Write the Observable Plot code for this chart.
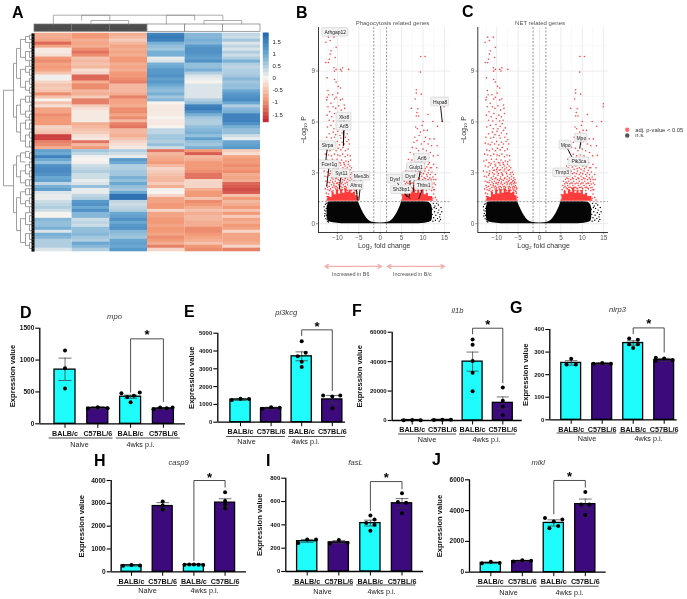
<!DOCTYPE html>
<html><head><meta charset="utf-8">
<script src="https://cdn.jsdelivr.net/npm/d3@7"></script>
<script src="https://cdn.jsdelivr.net/npm/@observablehq/plot@0.6"></script>
<style>
html,body{margin:0;padding:0;background:#fff}
#fig{position:relative;width:687px;height:599px;overflow:hidden;font-family:"Liberation Sans",Arial,sans-serif;background:#fff;filter:blur(.3px)}
#fig>svg{position:absolute;overflow:visible}
.letter{position:absolute;font-weight:700;font-size:16px;line-height:16px;color:#000}
</style></head><body><div id="fig"></div>
<script>
// ---------- heatmap values, one list per sample column (row by row, top to bottom)
const heatA=[-0.7,-0.7,-0.8,-1.3,-0.8,-0.1,-0.1,-0.2,-0.9,-1.0,-0.8,-0.9,-0.8,-0.5,0.05,0.05,-0.3,-0.5,-0.4,-0.5,-1.0,-0.5,0.0,-0.5,-0.2,-0.8,-0.8,-1.0,-0.9,-0.9,-0.9,-0.3,-0.4,-0.5,-1.6,-1.6,-1.1,-1.0,-0.7,1.1,1.0,1.5,1.0,0.7,1.3,1.4,1.4,1.3,1.0,1.1,0.4,0.9,1.1,0.2,0.1,0.1,0.3,0.4,0.5,0.3,0.0,0.0,0.8,0.7,0.7,0.9,0.2,0.9,0.8,0.5,0.5,0.5,0.2];
const heatB=[-0.9,-0.9,-0.7,-0.8,-0.7,-1.0,-1.2,-1.0,-0.5,-0.6,-0.5,-0.6,-0.2,-0.3,-1.3,-1.3,-0.7,-1.0,-1.0,-0.6,-0.7,-0.4,-1.1,-1.1,-0.4,-0.2,-0.1,-0.1,-0.1,-0.1,-0.7,-0.6,-0.5,-0.4,-0.2,-0.1,-1.2,-0.6,-0.9,0.6,0.4,0.05,0.0,0.05,0.3,0.4,0.5,0.3,0.3,0.1,0.2,0.7,0.1,0.1,0.4,0.5,1.2,1.3,1.0,1.3,0.8,0.8,0.3,0.4,0.3,0.7,0.7,0.8,0.6,0.5,1.0,0.8,0.5];
const heatC=[-0.7,-0.6,-0.4,-0.6,-0.8,-0.7,-0.8,-0.7,-0.9,-0.9,-0.7,-0.8,-0.7,-0.9,-0.9,-1.0,-1.1,-0.6,-0.6,-0.6,-0.7,-1.1,-0.8,-0.8,-0.7,-1.0,-1.0,-0.8,-1.0,-0.6,-1.1,-1.2,-0.6,-0.6,-0.7,-0.5,-0.3,-0.2,-0.1,0.5,0.3,0.1,1.2,1.0,0.5,0.5,0.6,0.6,0.9,0.7,1.0,0.7,0.6,1.0,1.7,1.7,0.4,0.3,0.4,0.5,1.0,1.1,1.3,1.0,1.2,1.3,0.8,0.7,0.6,1.0,1.1,1.0,1.2];
const heatD=[1.5,1.6,1.5,0.9,0.7,0.6,0.9,0.9,0.1,0.2,0.9,1.0,1.2,1.2,1.3,1.1,1.2,1.0,0.8,0.7,0.9,0.6,0.8,0.0,-0.1,-0.1,-0.1,-0.1,0.0,-0.1,-0.1,0.0,0.4,0.4,0.6,0.6,0.5,0.7,0.3,-1.2,-0.6,-0.7,-0.8,-0.9,-0.6,-0.3,-0.4,-0.5,-0.6,-0.6,-0.4,-0.7,0.05,0.0,-0.3,-0.8,-0.8,-0.9,-0.9,-0.3,-0.8,-0.8,-0.9,-0.9,-0.8,-0.9,-0.9,-0.8,-1.0,-0.9,-0.7,-1.1,-0.3];
const heatE=[0.8,0.8,0.9,0.8,1.2,1.3,1.3,1.2,1.1,1.3,0.7,0.7,0.9,0.5,0.2,0.1,0.0,0.2,0.2,0.2,0.2,0.2,0.5,0.7,1.5,1.6,1.3,0.9,0.6,0.5,0.5,0.7,0.8,0.9,0.7,1.1,0.7,0.6,0.9,-0.9,-1.4,-0.6,-0.7,-0.9,-0.9,-0.9,-1.0,-1.2,-1.2,-0.3,-0.3,-0.3,-0.7,-0.9,-0.9,-0.5,-1.0,-0.9,-0.7,-0.5,-0.7,-0.6,-0.6,-0.7,-0.7,-1.0,-1.0,-0.9,-0.8,-0.7,-0.5,-0.9,-1.0];
const heatF=[0.4,0.3,0.6,0.2,0.4,0.2,0.5,0.3,0.5,0.9,0.5,0.4,0.5,0.5,0.6,0.8,0.6,0.7,0.7,1.0,1.2,1.3,1.4,1.0,0.5,0.8,0.9,1.5,1.5,1.5,1.3,0.9,0.7,0.7,0.3,0.1,1.0,1.1,1.2,-0.4,-0.2,-0.8,-0.9,-0.9,-1.0,-0.9,-1.0,-0.7,-0.8,-0.7,-1.3,-1.4,-1.5,-1.4,-0.5,-0.9,-0.6,-0.7,-0.9,-0.5,-0.9,-0.4,-0.8,-0.7,-0.9,-0.8,-0.3,-0.8,-0.8,-0.8,-0.7,-0.3,-1.1];
const heatColumns=[heatA,heatB,heatC,heatD,heatE,heatF];
const sampleGroups=["BALB/c","BALB/c","BALB/c","C57BL/6","C57BL/6","C57BL/6"];
const colorbarStops=[-1.83,-1.7,-1.55,-1.4,-1.25,-1.1,-0.95,-0.8,-0.65,-0.5,-0.35,-0.2,-0.05,0.1,0.25,0.4,0.55,0.7,0.85,1.0,1.15,1.3,1.45,1.6,1.75,1.89];
const colorbarTicks=[-1.5,-1,-0.5,0,0.5,1,1.5];
// dendrogram brackets: [height, pos1, childHeight1, pos2, childHeight2]
const rowTree=[[31,19,21,51,21],[21,10,18,28,18],[18,5,14,15,14],[18,24,14,33,14],[14,2,9,8,9],[14,12,9,18,9],[14,22,9,27,9],[14,30,9,36,9],[9,1,5,3,5],[9,6,5,9,5],[9,11,5,13,5],[9,16,5,19,5],[9,21,5,23,5],[9,26,5,28,5],[9,29,5,32,5],[9,34,5,38,5],[21,44,18,60,18],[18,41,14,48,14],[18,55,14,66,14],[14,40,9,43,9],[14,46,9,50,9],[14,53,9,57,9],[14,62,9,70,9],[9,39.5,5,41.5,5],[9,44,5,47,5],[9,49,5,51,5],[9,52,5,54,5],[9,56,5,58,5],[9,60,5,64,5],[9,67,5,71,5],[5,0.5,2,2,2],[5,3,2,5,2],[5,6,2,8,2],[5,9,2,11,2],[5,12,2,14,2],[5,15,2,17,2],[5,18,2,20,2],[5,21,2,23,2],[5,24,2,26,2],[5,27,2,29,2],[5,30,2,32,2],[5,33,2,35,2],[5,36,2,38,2],[5,40,2,42,2],[5,43,2,45,2],[5,46,2,48,2],[5,49,2,51,2],[5,52,2,54,2],[5,55,2,57,2],[5,58,2,60,2],[5,61,2,63,2],[5,64,2,66,2],[5,67,2,69,2],[5,70,2,72,2]];
const colTree=[[18.3,0.5,9,2.0,13],[13,1.5,9,2.5,9],[18.3,3.5,9,5.0,13],[13,4.5,9,5.5,9]];

// ---------- volcano values (shared genes in both volcano panels)
const redLeft=[[-12.7,10.7],[-12.1,11],[-11.7,10.8],[-10.8,11],[-10.3,10.4],[-11.5,10.2],[-11.7,10],[-12.7,9.5],[-12.1,9.5],[-11.9,9.7],[-10.5,9.8],[-10.8,9.2],[-10.7,9],[-10.3,9.1],[-8.8,9.2],[-9.3,9.1],[-7.4,9.1],[-9,9],[-12.4,8.6],[-10.7,8.5],[-10.3,8.35],[-9.8,8.1],[-9.3,8],[-12.2,7.85],[-12,7.6],[-12.4,7.45],[-10.3,7.45],[-10.7,7.35],[-8.8,7.35],[-9.3,7.3],[-11.5,7.1],[-8.4,7],[-12.5,7.3],[-11.1,7.6],[-9.9,7.7],
[-12.2,6.9],[-11.8,6.6],[-11,6.9],[-10.4,6.8],[-9.7,6.95],[-9.1,6.7],[-8.3,6.8],[-12.4,6.4],[-11.3,6.3],[-10.7,6.5],[-10.1,6.2],[-9.5,6.4],[-8.9,6.3],[-8.2,6.5],[-11.9,6.1],[-10.9,6.05],[-9.3,6.05],[-8.5,6.1],
[-12.3,5.7],[-11.5,5.8],[-10.8,5.6],[-10.2,5.85],[-9.7,5.6],[-9.2,5.75],[-8.7,5.9],[-8,5.65],[-11.9,5.3],[-11,5.4],[-10.4,5.25],[-9.9,5.45],[-9.4,5.2],[-8.9,5.35],[-8.4,5.5],[-7.7,5.3],[-12.5,5.1],[-11.4,5.05],[-10.7,5.1],[-9.2,5.05],[-8.1,5.1],[-7.4,4.95],
[-12.7,4.75],[-12,4.7],[-11.5,4.65],[-11.1,4.8],[-10.5,4.7],[-10,4.85],[-9.5,4.65],[-8.9,4.8],[-8.4,4.7],[-7.8,4.85],[-7.2,4.7],[-12.3,4.35],[-11.7,4.3],[-11,4.4],[-10.3,4.3],[-9.8,4.45],[-9.2,4.35],[-8.7,4.5],[-8.1,4.3],[-7.5,4.4],[-12.8,4.1],[-12.1,4.05],[-11.4,4],[-10.7,4.1],[-9.9,4.05],[-9.4,4],[-8.8,4.1],[-8.2,3.95],[-7.6,4.05],[-7,4],
[-13,3.7],[-12.4,3.75],[-11.8,3.6],[-11.2,3.8],[-10.6,3.65],[-10.1,3.8],[-9.6,3.6],[-9,3.75],[-8.5,3.6],[-8,3.7],[-7.4,3.65],[-6.9,3.75],[-12.7,3.4],[-12,3.35],[-11.5,3.45],[-10.9,3.3],[-10.3,3.4],[-9.8,3.3],[-9.2,3.45],[-8.7,3.3],[-8.2,3.4],[-7.7,3.3],[-7.1,3.4],[-6.7,3.3],[-13.1,3.1],[-12.3,3.05],[-11.6,3.1],[-11,3],[-10.5,3.15],[-9.9,3.05],[-9.4,3.15],[-8.9,3],[-8.3,3.1],[-7.8,3.05],[-7.3,3.15],[-6.7,3],[-6.3,3.05],
[-12.9,2.8],[-12.4,2.75],[-11.9,2.85],[-11.3,2.7],[-10.8,2.8],[-10.2,2.7],[-9.7,2.85],[-9.1,2.75],[-8.6,2.85],[-8.1,2.7],[-7.5,2.8],[-7,2.7],[-6.5,2.8],[-6,2.7],[-12.7,2.5],[-12.2,2.45],[-11.6,2.55],[-11.1,2.45],[-10.5,2.5],[-10,2.4],[-9.4,2.55],[-8.9,2.45],[-8.4,2.55],[-7.8,2.45],[-7.3,2.5],[-6.8,2.4],[-6.3,2.5],[-5.8,2.45],[-12.5,2.25],[-11.9,2.2],[-11.4,2.3],[-10.8,2.25],[-10.3,2.2],[-9.7,2.3],[-9.2,2.2],[-8.6,2.3],[-8.1,2.2],[-7.6,2.3],[-7,2.2],[-6.5,2.3],[-6,2.2],[-5.6,2.25],[-5.3,2.05],
[-12.8,2.05],[-12.2,2],[-11.6,2.05],[-11,1.95],[-10.4,2.05],[-9.9,1.95],[-9.4,2.05],[-8.8,2],[-8.3,2.05],[-7.7,1.95],[-7.2,2.05],[-6.7,1.95],[-6.2,2.05],[-5.7,1.95],[-12.6,1.8],[-12.1,1.75],[-6.1,1.85],[-5.4,1.8],[-12.4,1.6],[-12.2,1.45],[-5.2,1.55]];
const redRight=[[9.45,9.86],[10.5,9.86],[9.4,8.94],[8.44,7.9],[8.44,7.7],[9.6,7.64],[8.2,7.35],[7.27,6.8],[8.8,6.78],[8.6,6.56],[9,6.35],[8.44,6.35],[14.9,7.07],[14.9,6.9],[14.5,6.03],[12.3,6.03],[10,6.03],[11.2,6.44],[13.4,5.74],[13.5,4.03],
[9.8,5.8],[8.3,5.7],[8.7,5.6],[9.4,5.4],[10.2,5.5],[11,5.5],[8.1,5.1],[9.1,5.2],[10.6,5.1],[11.6,5],[12.6,5],[7.9,4.8],[8.6,4.9],[9.6,4.7],[10.3,4.85],[11.2,4.7],[12,4.6],[13.3,4.6],[7.5,4.5],[8.4,4.45],[9,4.3],[10,4.4],[10.8,4.3],[11.7,4.2],[7,4.2],[7.9,4.1],[8.7,4],[9.5,4.05],[10.4,4],[11.3,3.9],[12.4,4],
[6.6,3.8],[7.4,3.75],[8.1,3.7],[9,3.65],[9.9,3.75],[10.7,3.7],[11.5,3.6],[12.5,3.5],[6.3,3.4],[7,3.45],[7.7,3.35],[8.5,3.4],[9.3,3.3],[10.1,3.4],[10.9,3.35],[11.7,3.3],[13.2,3.3],[6,3.1],[6.7,3.05],[7.4,3.1],[8.1,3],[8.9,3.1],[9.6,3],[10.4,3.1],[11.2,3],[12.1,3.05],[12.9,2.9],
[5.8,2.8],[6.4,2.7],[7,2.8],[7.7,2.7],[8.3,2.8],[9,2.7],[9.7,2.8],[10.3,2.7],[11,2.8],[11.6,2.7],[12.3,2.75],[13,2.6],[5.6,2.5],[6.2,2.45],[6.8,2.5],[7.4,2.4],[8,2.5],[8.6,2.4],[9.3,2.5],[9.9,2.4],[10.6,2.5],[11.3,2.4],[11.9,2.5],[12.6,2.4],[5.4,2.25],[6,2.2],[6.6,2.25],[7.2,2.15],[7.8,2.25],[8.4,2.15],[9.1,2.25],[9.7,2.15],[10.4,2.25],[11,2.15],[11.7,2.25],[12.3,2.15],[5.3,2],[5.9,1.95],[6.5,2.05],[7.1,1.95],[7.7,2.05],[8.3,1.95],[8.9,2.05],[9.5,1.95],[10.1,2.05],[10.8,1.95],[11.4,2.05],[12,1.95],[12.7,2],[12.5,1.75],[12.9,1.55],[5.1,1.7],[12.3,1.5],[13.2,1.4]];
const redLeftDense=[[-11.3,3.55],[-10.4,3.5],[-9.3,3.58],[-8.4,3.5],[-7.5,3.5],[-10.8,3.15],[-10,3.2],[-9.1,3.18],[-8.1,3.22],[-7,3.18],[-11.7,2.95],[-10.6,2.92],[-9.6,2.96],[-8.7,2.92],[-7.7,2.95],[-6.9,2.9],[-6.1,2.9],[-11,2.62],[-10.4,2.65],[-9.8,2.6],[-9.2,2.65],[-8.8,2.6],[-8.2,2.65],[-7.6,2.62],[-7.1,2.55],[-6.6,2.62],[-6.1,2.55],[-5.7,2.6],[-11.8,2.42],[-10.8,2.35],[-10.2,2.38],[-9.6,2.42],[-9,2.35],[-8.2,2.38],[-7.5,2.4],[-7,2.34],[-6.5,2.42],[-6,2.36],[-5.5,2.4],[-12.3,2.15],[-11.1,2.14],[-10.6,2.16],[-10,2.12],[-9.5,2.16],[-8.9,2.12],[-8.4,2.18],[-7.9,2.12],[-7.3,2.16],[-6.8,2.12],[-6.3,2.16],[-5.8,2.12],[-5.4,2.15],[-11.8,1.95],[-11.3,1.9],[-10.1,2.02],[-9.2,1.98],[-8,2.02],[-6.9,2.02],[-6,1.98],[-5.5,1.9]];
const redRightDense=[[7.2,3.6],[8.4,3.6],[9.5,3.55],[10.3,3.55],[11.2,3.5],[6.7,3.3],[8.1,3.2],[8.8,3.25],[9.7,3.2],[10.5,3.25],[11.4,3.15],[12,3.3],[6.4,2.95],[7.7,2.95],[8.6,2.95],[9.3,2.9],[10.1,2.95],[10.8,2.9],[11.7,2.9],[6.1,2.62],[6.7,2.65],[7.3,2.6],[7.9,2.65],[8.6,2.6],[9.2,2.65],[9.9,2.6],[10.6,2.65],[11.2,2.6],[11.9,2.62],[12.5,2.6],[5.9,2.35],[6.5,2.38],[7.1,2.35],[7.7,2.4],[8.3,2.35],[9,2.38],[9.6,2.34],[10.2,2.4],[10.9,2.35],[11.5,2.38],[12.1,2.34],[12.9,2.3],[5.7,2.12],[6.3,2.1],[6.9,2.14],[7.5,2.1],[8.1,2.14],[8.7,2.1],[9.4,2.14],[10,2.1],[10.7,2.14],[11.3,2.1],[12,2.12],[12.5,2]];
const blackSparse=[[-13.1,1],[-13,0.8],[-12.9,0.6],[-13,0.45],[-12.8,1.15],[-12.7,0.3],[-12.6,0.9],[-12.5,1.2],[-12.4,0.25],[-12.3,0.15],[-12.2,1.25],[-12.7,0.75],[-12.6,0.5],[-12.1,0.1],
[14.4,0.7],[14.2,0.95],[14,0.55],[13.9,0.4],[13.7,0.8],[13.6,1.1],[13.5,0.65],[13.4,0.3],[13.2,1.2],[13.1,0.9],[13,0.5],[12.9,0.2],[12.8,1.05],[12.7,0.7],[12.6,0.95],[12.5,0.35],[12.4,1.2],[12.3,0.15],[12.2,0.55],[12.1,0.85],[14.1,0.25],[13.8,0.15]];
const massX=[-12.4,-12,-11,-9,-7,-5.1,-4.7,-4.3,-3.9,-3.5,-3.1,-2.7,-2.3,-1.8,-1,0,1,1.8,2.3,2.7,3.1,3.5,3.9,4.3,4.7,5,7,9,10.5,11.5,12,12.2];
const massTop=[1.0,1.28,1.3,1.3,1.3,1.3,1.05,0.82,0.62,0.45,0.3,0.2,0.13,0.08,0.05,0.04,0.05,0.08,0.13,0.2,0.3,0.45,0.62,0.82,1.05,1.3,1.3,1.3,1.3,1.25,1.1,0.9];
const massLow=[0.35,0.12,0.05,0,0,0,0,0,0,0,0,0,0,0,0,0,0,0,0,0,0,0,0,0,0,0,0,0,0.03,0.08,0.15,0.3];
const redBandLeftX=[-12.5,-12,-11.5,-11,-10.5,-10,-9.5,-9,-8.5,-8,-7.5,-7,-6.5,-6,-5.5,-5];
const redBandLeftTop=[1.4,1.6,1.55,1.85,1.7,1.95,1.75,2,1.8,2.05,1.85,1.95,1.8,1.85,1.65,1.4];
const redBandRightX=[5,5.5,6,6.5,7,7.5,8,8.5,9,9.5,10,10.5,11,11.5,12,12.5];
const redBandRightTop=[1.4,1.7,1.9,1.75,2,1.85,2.1,1.8,1.95,1.8,1.95,1.7,1.8,1.6,1.6,1.4];
const geneLabelsB=[["Arhgap12",-10.5,11.28,null,null],["Xkr8",-8.45,6.29,-8.6,4.6],["Arl5",-8.45,5.74,-8.6,4.6],["Sirpa",-12.3,4.6,-12.7,3.75],["Fcer1g",-11.9,3.48,-12.5,2.2],["Syt11",-9.07,2.95,-9.6,2.02],["Mex3b",-4.4,2.79,-5,1.37],["Ahnq",-5.66,2.24,-5.3,1.37],["Hspa8",14,7.17,14.5,6],["Arl6",9.77,3.87,9,2.55],["Gulp1",8.37,3.34,7.67,1.87],["Dysf",7.05,2.79,6.8,1.6],["Dysf",3.41,2.63,6.28,1.57],["Sh3bp1",4.96,2,7,1.47],["Thbs1",10.15,2.26,9,1.47]];
const geneLabelsC=[["Mpo",9.77,5.05,9.4,4.42],["Mpo",6.1,4.64,7.65,3.89],["Pik3ca",9.2,3.65,null,null],["Timp3",5.3,3,null,null]];
const legendEntries=[["adj. p-value < 0.05","#ff6b6b",5.54],["n.s.","#555555",5.2]];

// ---------- bar panels
const strains=["BALB/c","C57BL/6","BALB/c","C57BL/6"];
const timepoints=["Naive","4wks p.i."];
const meanD=[850,250,425,240],lowD=[680,235,400,225],highD=[1030,265,450,255];
const ptsD=[[1150,870,555],[240,260,245],[480,490,340,420,440],[230,255,245,255]];
const offD=[[0,0,0],[-.3,0,.3],[-.28,.28,0,-.1,.1],[-.3,-.1,.1,.28]];
const meanE=[1270,780,3700,1280],lowE=[1220,720,3450,1060],highE=[1320,840,3950,1500];
const ptsE=[[1250,1320,1300],[750,840,810],[4550,3900,3700,3400,3100],[1500,1500,1450,780]];
const offE=[[-.28,0,.28],[-.28,0,.28],[0,.13,-.13,0,0],[-.3,.26,0,0]];
const meanF=[300,400,40000,12000],lowF=[200,300,33500,8000],highF=[400,500,46500,16000];
const ptsF=[[200,300,200],[400,500,450],[55000,51500,40500,32500,19800],[22500,13500,9500,3500]];
const offF=[[-.28,0,.28],[-.28,0,.28],[0,0,0,0,0],[0,0,0,0]];
const meanG=[252,248,340,265],lowG=[242,245,330,258],highG=[262,252,350,272];
const ptsG=[[270,245,245],[248,252,248],[360,355,335,335,318],[275,272,265,262]];
const offG=[[0,-.15,.15],[-.28,0,.28],[-.13,.15,-.13,.15,0],[-.27,0,.27,-.27]];
const meanH=[280,2880,310,3030],lowH=[250,2730,295,2850],highH=[310,3030,325,3200];
const ptsH=[[270,300,280],[3080,2900,2730],[310,320,320,310,300],[3480,3100,2950,2780]];
const offH=[[-.27,0,.27],[0,0,0],[-.3,-.15,0,.15,.3],[0,0,0,0]];
const meanI=[260,250,415,585],lowI=[250,240,390,545],highI=[275,265,440,625];
const ptsI=[[245,275,275],[240,270,245],[480,445,415,400,350],[670,595,590,500]];
const offI=[[-.28,0,.28],[-.28,0,.28],[0,.13,-.13,.13,0],[0,-.13,.13,0]];
const meanJ=[600,720,3200,4420],lowJ=[560,690,3000,4100],highJ=[650,770,3400,4750];
const ptsJ=[[580,680,600],[700,780,750],[3520,3430,3300,3000,2850],[5200,4400,4400,3720]];
const offJ=[[-.28,0,.28],[-.28,0,.28],[-.28,.27,0,.14,-.14],[0,-.13,.13,0]];

// ---------- layout, in page pixels
const FONT='"Liberation Sans",Arial,sans-serif';
const fig=document.getElementById("fig");
function place(svg,left,top){svg.style.left=left+"px";svg.style.top=top+"px";fig.appendChild(svg);}
const baseStyle={fontFamily:FONT,background:"transparent",overflow:"visible"};

// ---------- panel A
const cells=heatColumns.flatMap((c,col)=>c.map((v,row)=>({col,row,v})));
const nRows=heatA.length;
const colorScale={type:"linear",domain:[-1.85,-0.9,0,1,1.85],range:["#c0202c","#f29a78","#f7f3ef","#6aa8d2","#2268ae"]};
function bracketSegs(tree){return tree.flatMap(([h,p1,h1,p2,h2])=>[[h,p1,h,p2],[h,p1,h1,p1],[h,p2,h2,p2]]);}
const pxCol=226/6, pxRow=218/nRows;
const rowSegs=bracketSegs(rowTree);
const colSegs=bracketSegs(colTree);
const leafRows=d3.range(nRows);
const colRootBar=[[1.25,4.25]];
place(Plot.plot({
  width:262,height:255,marginLeft:34,marginRight:2,marginTop:33,marginBottom:4,style:baseStyle,
  x:{domain:[0,6],axis:null},y:{domain:[nRows,0],axis:null},
  color:colorScale,
  marks:[
    Plot.rect(cells,{x1:"col",x2:d=>d.col+1,y1:"row",y2:d=>d.row+1,fill:"v",insetTop:-.3,insetBottom:-.3}),
    Plot.rect(sampleGroups,{x1:(d,i)=>i,x2:(d,i)=>i+1,y1:-9/pxRow,y2:-1.7/pxRow,fill:d=>d==="BALB/c"?"#4d4d4d":"#ffffff",stroke:"#7a7a7a",strokeWidth:.7}),
    Plot.link(colSegs,{x1:d=>d[1],x2:d=>d[3],y1:d=>-d[0]/pxRow,y2:d=>-d[2]/pxRow,stroke:"#8a8a8a",strokeWidth:.7}),
    Plot.link(colRootBar,{x1:d=>d[0],x2:d=>d[1],y1:-18.3/pxRow,y2:-18.3/pxRow,stroke:"#8a8a8a",strokeWidth:.7}),
    Plot.link([1.25,4.25],{x1:d=>d,x2:d=>d,y1:-18.3/pxRow,y2:-13/pxRow,stroke:"#8a8a8a",strokeWidth:.7}),
    Plot.link(rowSegs,{x1:d=>-d[0]/pxCol,x2:d=>-d[2]/pxCol,y1:d=>d[1],y2:d=>d[3],stroke:"#777",strokeWidth:.7}),
    Plot.link(leafRows,{x1:-3/pxCol,x2:0,y1:d=>d+.5,y2:d=>d+.5,stroke:"#0a0a0a",strokeWidth:3.2})
  ]
}),0,0);
place(Plot.plot({
  width:28,height:105,marginLeft:1,marginRight:21.5,marginTop:7.7,marginBottom:8,style:baseStyle,
  x:{domain:[0,1],axis:null},y:{domain:[-1.83,1.89],axis:null},color:colorScale,
  marks:[
    Plot.rect(colorbarStops.slice(0,-1),{x1:0,x2:1,y1:d=>d,y2:(d,i)=>colorbarStops[i+1],fill:d=>d+.07,inset:-.2}),
    Plot.axisY(colorbarTicks,{anchor:"right",tickSize:0,tickPadding:3.5,fontSize:6,textAnchor:"start",tickFormat:d=>String(d),label:null,fill:"#222"})
  ]
}),262,25);

// ---------- panels B and C
const GRAYTXT="#555";
function volcano({labels,left,width,axisRight,x0px,title,titlePx,ylabelPx,extraMarks=[]}){
  const pxU=4.28;
  const mL=axisRight[0]-left, mR=left+width-axisRight[1];
  const dom=[(axisRight[0]-x0px)/pxU,(axisRight[1]-x0px)/pxU];
  const rows=labels.map(([name,x,y,lx,ly])=>({name,x,y,lx,ly}));
  const boxW=d=>(d.name.length*2.75+4)/2/pxU, boxH=4.3/16.96;
  return Plot.plot({
    width,height:280,marginLeft:mL,marginRight:mR,marginTop:27,marginBottom:48,style:baseStyle,
    x:{domain:dom,axis:null},y:{domain:[-0.52,11.57],axis:null},
    marks:[
      Plot.gridX({ticks:[-12.5,-7.5,-2.5,2.5,7.5,12.5],stroke:"#f3f3f3",strokeOpacity:1,strokeWidth:.6}),
      Plot.gridY({ticks:[1.5,4.5,7.5,10.5],stroke:"#f3f3f3",strokeOpacity:1,strokeWidth:.6}),
      Plot.gridX({ticks:[-10,-5,0,5,10,15],stroke:"#e6e6e6",strokeOpacity:1,strokeWidth:.8}),
      Plot.gridY({ticks:[0,3,6,9],stroke:"#e6e6e6",strokeOpacity:1,strokeWidth:.8}),
      Plot.areaY(massX.map((x,i)=>({x,a:massLow[i],b:massTop[i]})),{x:"x",y1:"a",y2:"b",fill:"#050505"}),
      Plot.dot(blackSparse,{x:d=>d[0],y:d=>d[1],r:.7,fill:"#000"}),
      Plot.areaY(redBandLeftX.map((x,i)=>({x,b:redBandLeftTop[i]})),{x:"x",y1:1.32,y2:"b",fill:"#ff3c3c",curve:"step"}),
      Plot.areaY(redBandRightX.map((x,i)=>({x,b:redBandRightTop[i]})),{x:"x",y1:1.32,y2:"b",fill:"#ff3c3c",curve:"step"}),
      Plot.dot(redLeft.concat(redRight,redLeftDense,redRightDense),{x:d=>d[0],y:d=>d[1],r:.8,fill:"#ff2525",fillOpacity:.85}),
      Plot.ruleY([1.3],{stroke:"#777",strokeWidth:.7,strokeDasharray:"2,1.5"}),
      Plot.ruleX([-1.5,1.5],{stroke:"#666",strokeWidth:.7,strokeDasharray:"2,1.5"}),
      Plot.link(rows.filter(d=>d.lx!=null),{x1:"x",y1:"y",x2:"lx",y2:"ly",stroke:"#000",strokeWidth:.9}),
      Plot.rect(rows,{x1:d=>d.x-boxW(d),x2:d=>d.x+boxW(d),y1:d=>d.y-boxH,y2:d=>d.y+boxH,fill:"#f2f2f2",stroke:"#c4c4c4",strokeWidth:.5,rx:1}),
      Plot.text(rows,{x:"x",y:"y",text:"name",fontSize:5,fill:"#222"}),
      Plot.axisX({ticks:[-10,-5,0,5,10,15],tickSize:2,tickPadding:1.5,fontSize:6.3,label:null,fill:GRAYTXT,stroke:"#555",strokeWidth:.6}),
      Plot.axisY({ticks:[0,3,6,9],tickSize:2,tickPadding:1.5,fontSize:6.3,label:null,fill:GRAYTXT,stroke:"#555",strokeWidth:.6}),
      Plot.ruleX([dom[0]],{stroke:"#222",strokeWidth:.9}),
      Plot.ruleY([-0.52],{stroke:"#222",strokeWidth:.9}),
      Plot.text([title],{frameAnchor:"top-left",dx:titlePx-axisRight[0],dy:-7,textAnchor:"middle",fontSize:6,fill:"#555"}),
      Plot.text(["Log₂ fold change"],{frameAnchor:"bottom-left",dx:x0px+4-axisRight[0],dy:15,textAnchor:"middle",fontSize:7,fill:"#333"}),
      Plot.text(["−Log₁₀ P"],{frameAnchor:"left",dx:ylabelPx-axisRight[0],rotate:-90,textAnchor:"middle",fontSize:7,fill:"#333"}),
      ...extraMarks
    ]
  });
}
const arrowEnds=[[-6.3,-12.9],[-6.3,0.3],[8.3,1.7],[8.3,15]];
const arrowTexts=[["Increased in B6",-6.9],["Increased in B/c",7.5]];
place(volcano({labels:geneLabelsB,left:290,width:166,axisRight:[318,450],x0px:379.7,title:"Phagocytosis related genes",titlePx:392,ylabelPx:303,
  extraMarks:[
    Plot.arrow(arrowEnds,{x1:d=>d[0],x2:d=>d[1],y1:-2.52,y2:-2.52,stroke:"#f6aeae",strokeWidth:1.4,headLength:4,bend:0}),
    Plot.text(arrowTexts,{x:d=>d[1],y:-2.99,text:d=>d[0],fontSize:5.4,fill:"#555"})
  ]}),290,0);
place(volcano({labels:geneLabelsC,left:458,width:229,axisRight:[477.3,608],x0px:539,title:"NET related genes",titlePx:539.5,ylabelPx:463,
  extraMarks:[
    Plot.dot(legendEntries,{x:20.5,y:d=>d[2],r:2.2,fill:d=>d[1]}),
    Plot.text(legendEntries,{x:22.4,y:d=>d[2],text:d=>d[0],textAnchor:"start",fontSize:5.8,fill:"#333"})
  ]}),458,0);

// ---------- panels D to J
const barLayouts=[
 {title:"mpo",mean:meanD,low:lowD,high:highD,pts:ptsD,off:offD,ticks:[0,500,1000,1500],max:1500,box:[0,186,295,155],ax:39.3,right:185,c0:64.5,step:32.8,hw:.32,top:327.7,zero:423.3,tickFs:6.5,labelY:433,ruleY:437.5,groupY:444,groupX:[79,140],ruleSpan:[[-.5,1.45],[1.55,3.5]],titleX:114,titleY:313,ylabX:12,bracket:[1333,497,350],starV:1427},
 {title:"pi3kcg",mean:meanE,low:lowE,high:highE,pts:ptsE,off:offE,ticks:[0,1000,2000,3000,4000,5000],max:5000,box:[186,161,295,155],ax:217.3,right:345,c0:240,step:30.6,hw:.33,top:332.7,zero:421.7,tickFs:6,labelY:431,ruleY:436,groupY:441.5,groupX:[246,305],ruleSpan:[[-.47,1.45],[1.55,3.42]],titleX:285.7,titleY:309,ylabX:191,bracket:[5187,4870,1780],starV:5487},
 {title:"il1b",mean:meanF,low:lowF,high:highF,pts:ptsF,off:offF,ticks:[0,20000,40000,60000],max:60000,box:[347,175,295,155],ax:391.7,right:521.7,c0:411.7,step:30.2,hw:.33,top:331.7,zero:420,tickFs:6,labelY:429,ruleY:433.5,groupY:439,groupX:[426.5,486],ruleSpan:[[-.47,1.45],[1.55,3.42]],titleX:457,titleY:307,ylabX:359,bracket:[62700,58870,25580],starV:66340},
 {title:"nlrp3",mean:meanG,low:lowG,high:highG,pts:ptsG,off:offG,ticks:[0,100,200,300,400],max:400,box:[522,165,295,155],ax:549.3,right:676.7,c0:570.7,step:31,hw:.32,top:329,zero:419.3,tickFs:6,labelY:428.7,ruleY:432.5,groupY:438,groupX:[586.5,648],ruleSpan:[[-.47,1.45],[1.55,3.42]],titleX:617,titleY:306,ylabX:525,bracket:[407,381,300],starV:435},
 {title:"casp9",mean:meanH,low:lowH,high:highH,pts:ptsH,off:offH,ticks:[0,1000,2000,3000,4000],max:4000,box:[70,180,450,149],ax:110.7,right:246,c0:131,step:31.2,hw:.32,top:480,zero:571.3,tickFs:6.5,labelY:580.7,ruleY:585,groupY:590.5,groupX:[147,204],ruleSpan:[[-.47,1.45],[1.55,3.42]],titleX:178,titleY:459,ylabX:80.7,bracket:[4000,496,3708],starV:4219},
 {title:"fasL",mean:meanI,low:lowI,high:highI,pts:ptsI,off:offI,ticks:[0,200,400,600,800],max:800,box:[250,180,450,149],ax:285.3,right:423,c0:306.7,step:31.6,hw:.32,top:477.7,zero:571,tickFs:6,labelY:580.7,ruleY:584.5,groupY:591,groupX:[322,381],ruleSpan:[[-.47,1.45],[1.55,3.42]],titleX:355,titleY:459,ylabX:259,bracket:[771,523,709],starV:823},
 {title:"mlkl",mean:meanJ,low:lowJ,high:highJ,pts:ptsJ,off:offJ,ticks:[0,2000,4000,6000],max:6000,box:[430,190,450,149],ax:469,right:605.7,c0:490.3,step:31.5,hw:.32,top:479.3,zero:571.7,tickFs:6.5,labelY:580.7,ruleY:585.7,groupY:592,groupX:[508,569],ruleSpan:[[-.47,1.45],[1.55,3.42]],titleX:537.7,titleY:459,ylabX:439,bracket:[5957,3790,5523],starV:6325}
];
const CYAN="#1efcfc", PURPLE="#3c0a7d";
for(const p of barLayouts){
  const [l,w,t,h]=p.box;
  const dots=p.pts.flatMap((vals,g)=>vals.map((v,j)=>({x:g+p.off[g][j],v})));
  const bars=p.mean.map((m,g)=>({g,m,low:p.low[g],high:p.high[g]}));
  const [up,lo,ro]=p.bracket;
  const tickLen=-p.max*4/(p.zero-p.top);
  const svg=Plot.plot({
    width:w,height:h,marginLeft:p.ax-l,marginRight:l+w-p.right,marginTop:p.top-t,marginBottom:t+h-p.zero,style:baseStyle,
    x:{domain:[(p.ax-p.c0)/p.step,(p.right-p.c0)/p.step],axis:null},y:{domain:[0,p.max],axis:null},
    marks:[
      Plot.ruleX(bars,{x:"g",y1:"low",y2:"high",stroke:"#333",strokeWidth:.7}),
      Plot.link(bars.flatMap(d=>[{g:d.g,v:d.low},{g:d.g,v:d.high}]),{x1:d=>d.g-.2,x2:d=>d.g+.2,y1:"v",y2:"v",stroke:"#333",strokeWidth:.7}),
      Plot.rect(bars,{x1:d=>d.g-p.hw,x2:d=>d.g+p.hw,y1:0,y2:"m",fill:d=>d.g%2?PURPLE:CYAN,stroke:"#000",strokeWidth:1.3}),
      Plot.ruleX(bars,{x:"g",y1:"m",y2:"low",stroke:"#333",strokeWidth:.7}),
      Plot.link(bars.map(d=>({g:d.g,v:d.low})),{x1:d=>d.g-.2,x2:d=>d.g+.2,y1:"v",y2:"v",stroke:"#333",strokeWidth:.7}),
      Plot.dot(dots,{x:"x",y:"v",r:2,fill:"#000"}),
      Plot.line([[2,lo],[2,up],[3,up],[3,ro]],{x:d=>d[0],y:d=>d[1],stroke:"#222",strokeWidth:.8}),
      Plot.text(["*"],{x:2.5,y:p.starV,fontSize:13,fontWeight:700,dy:2,fill:"#000"}),
      Plot.ruleY([0],{stroke:"#000",strokeWidth:1.3}),
      Plot.ruleX([(p.ax-p.c0)/p.step],{y1:0,y2:p.max,stroke:"#000",strokeWidth:1.3}),
      Plot.axisY({ticks:p.ticks,tickSize:4,tickPadding:1.5,fontSize:p.tickFs,fontWeight:700,label:null,fill:"#111",stroke:"#000",strokeWidth:1.1,tickFormat:d=>String(d)}),
      Plot.link([0,1,2,3],{x1:d=>d,x2:d=>d,y1:0,y2:tickLen,stroke:"#000",strokeWidth:1}),
      Plot.text(strains,{x:(d,i)=>i,y:0,dy:p.labelY-p.zero,fontSize:7.2,fontWeight:700,fill:"#111"}),
      Plot.link(p.ruleSpan,{x1:d=>d[0],x2:d=>d[1],y1:0,y2:0,dy:p.ruleY-p.zero,stroke:"#222",strokeWidth:.8}),
      Plot.text(timepoints,{x:(d,i)=>(p.groupX[i]-p.c0)/p.step,y:0,dy:p.groupY-p.zero,fontSize:7.2,fill:"#222"}),
      Plot.text(["Expression value"],{frameAnchor:"left",dx:p.ylabX-p.ax,rotate:-90,textAnchor:"middle",fontSize:7.6,fontWeight:700,fill:"#111"}),
      Plot.text([p.title],{frameAnchor:"top-left",dx:p.titleX-p.ax,dy:p.titleY-p.top,textAnchor:"middle",fontSize:7.6,fontStyle:"italic",fill:"#333"})
    ]
  });
  place(svg,l,t);
}

// ---------- panel letters
const panelLetters=[["A",12,5],["B",296,5],["C",462,4],["D",20,305],["E",184,304],["F",352,303],["G",510,300],["H",94,453],["I",266,453],["J",432,452]];
for(const [t,x,y] of panelLetters){const d=document.createElement("div");d.className="letter";d.textContent=t;d.style.left=x+"px";d.style.top=y+"px";fig.appendChild(d);}
</script></body></html>
